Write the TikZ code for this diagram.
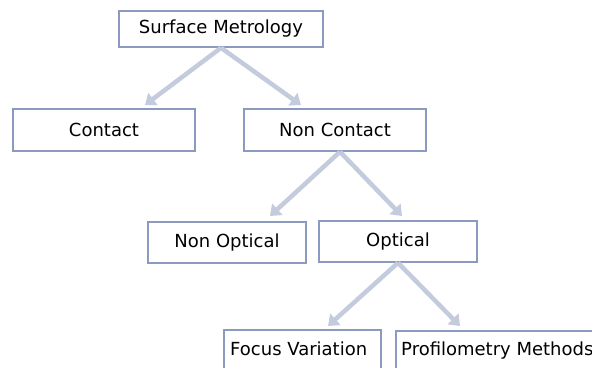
\documentclass[tikz,border=0pt]{standalone}
\usepackage{fontspec}
\setmainfont{DejaVu Sans}
\usetikzlibrary{arrows.meta}
\definecolor{boxline}{HTML}{8C9AC0}
\definecolor{arrowc}{HTML}{C3CBDC}
\tikzset{
  boxfont/.style={font=\fontsize{18}{21}\selectfont},
  box/.style={draw=boxline, line width=1.6pt, fill=white, inner sep=0pt, boxfont},
  conn/.style={draw=arrowc, line width=4.5pt, -{Triangle[length=10pt,width=15pt]}}
}
\begin{document}
\begin{tikzpicture}[x=1pt,y=-1pt]
\useasboundingbox (0,0) rectangle (592,367);
\clip (0,0) rectangle (592,367);
\node[box, minimum width=204pt, minimum height=36pt] (sm) at (221,29) {Surface Metrology};
\node[box, minimum width=182pt, minimum height=42pt] (ct) at (104,130) {Contact};
\node[box, minimum width=182pt, minimum height=42pt] (nc) at (335,130) {Non Contact};
\node[box, minimum width=158pt, minimum height=41pt] (no) at (227,242.5) {Non Optical};
\node[box, minimum width=158pt, minimum height=41pt] (op) at (398,241.5) {Optical};
\node[box, minimum width=157pt, minimum height=44pt, anchor=north west] (fv) at (223,329) {};
\node[anchor=west, inner sep=0pt, boxfont] (fvt) at (230,349) {Focus Variation};
\node[box, minimum width=220pt, minimum height=44pt, anchor=north west] (pm) at (395,330) {};
\node[anchor=west, inner sep=0pt, boxfont] (pmt) at (401,351) {Profilometry Methods};
\coordinate (a1) at (145,105);
\coordinate (a2) at (301,105);
\coordinate (a3) at (270,216);
\coordinate (a4) at (402,216);
\coordinate (a5) at (328,326);
\coordinate (a6) at (460,326);
\draw[conn] (sm.south) -- (a1);
\draw[conn] (sm.south) -- (a2);
\draw[conn] ([xshift=5pt]nc.south) -- (a3);
\draw[conn] ([xshift=5pt]nc.south) -- (a4);
\draw[conn] (op.south) -- (a5);
\draw[conn] (op.south) -- (a6);
\end{tikzpicture}
\end{document}
